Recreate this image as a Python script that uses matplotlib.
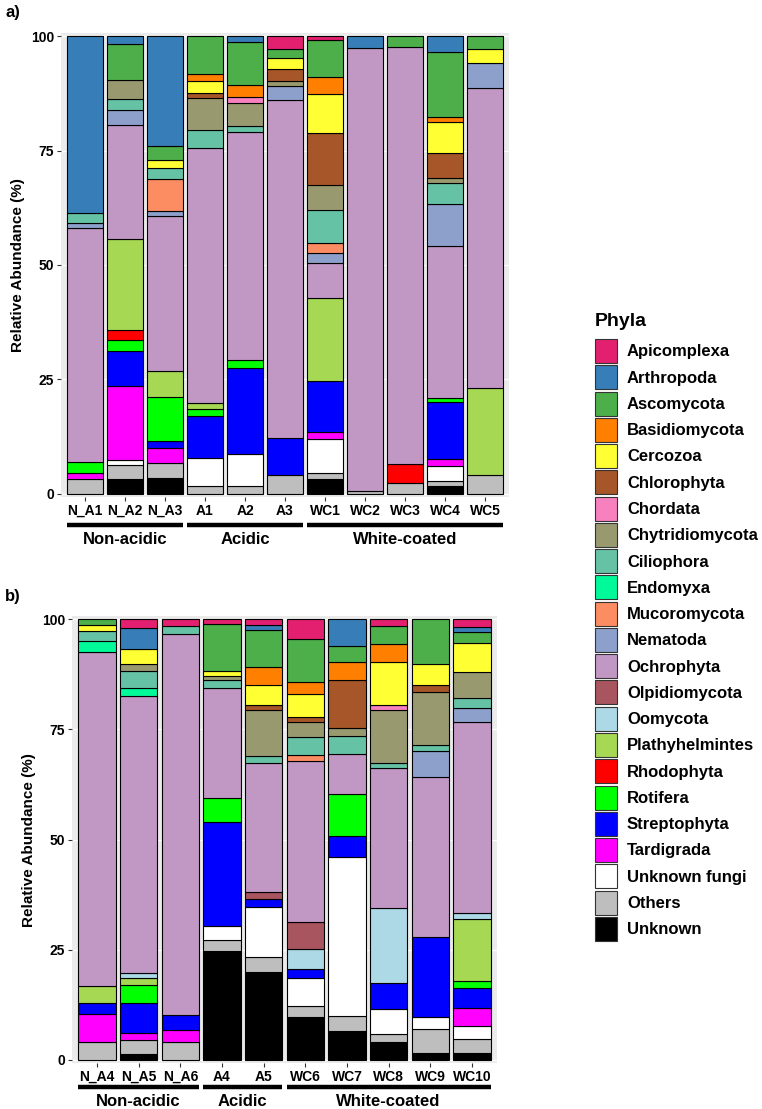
import numpy as np
import matplotlib
matplotlib.use("Agg")
import matplotlib.pyplot as plt
from matplotlib.patches import Patch
import matplotlib.transforms as mtransforms

plt.rcParams['font.family'] = ['Liberation Sans', 'DejaVu Sans']
plt.rcParams['font.weight'] = 'bold'

# ---------------- data ----------------
phyla = ["Apicomplexa", "Arthropoda", "Ascomycota", "Basidiomycota", "Cercozoa",
         "Chlorophyta", "Chordata", "Chytridiomycota", "Ciliophora", "Endomyxa",
         "Mucoromycota", "Nematoda", "Ochrophyta", "Olpidiomycota", "Oomycota",
         "Plathyhelmintes", "Rhodophyta", "Rotifera", "Streptophyta", "Tardigrada",
         "Unknown fungi", "Others", "Unknown"]
colors = ["#E3206F", "#377EB8", "#4DAF4A", "#FF7F00", "#FFFF33",
          "#A65628", "#F781BF", "#999970", "#66C2A5", "#00FA9A",
          "#FC8D62", "#8DA0CB", "#C197C4", "#A8555F", "#ADD8E6",
          "#A6D854", "#FF0000", "#00FF00", "#0000FF", "#FF00FF",
          "#FFFFFF", "#BEBEBE", "#000000"]

# panel a samples (values in phyla order, %)
samples_a = ["N_A1", "N_A2", "N_A3", "A1", "A2", "A3", "WC1", "WC2", "WC3", "WC4", "WC5"]
N_A1 = [0, 38.6, 0, 0, 0, 0, 0, 0, 2.3, 0, 0, 1.1, 51.1, 0, 0, 0, 0, 2.4, 0, 1.2, 0, 3.3, 0]
N_A2 = [0, 1.6, 7.9, 0, 0, 0, 0, 4.2, 2.5, 0, 0, 3.2, 25.0, 0, 0, 19.8, 2.2, 2.3, 7.7, 16.2, 1.0, 3.1, 3.3]
N_A3 = [0, 24.0, 3.1, 0, 1.8, 0, 0, 0, 2.4, 0, 6.9, 1.1, 33.8, 0, 0, 5.7, 0, 9.6, 1.6, 3.3, 0, 3.2, 3.5]
A1 = [0, 0, 8.2, 1.6, 2.6, 1.1, 0, 6.9, 4.0, 0, 0, 0, 55.8, 0, 0, 1.3, 0, 1.6, 9.0, 0, 6.1, 1.8, 0]
A2 = [0, 1.3, 9.4, 2.6, 0, 0, 1.2, 5.2, 1.2, 0, 0, 0, 49.9, 0, 0, 0, 0, 1.6, 19.0, 0, 6.8, 1.8, 0]
A3 = [2.9, 0, 1.8, 0, 2.4, 2.6, 0, 1.1, 0, 0, 0, 3.2, 73.8, 0, 0, 0, 0, 0, 8.0, 0, 0, 4.2, 0]
WC1 = [0.9, 0, 8.0, 3.8, 8.5, 11.3, 0, 5.5, 7.2, 0, 2.1, 2.2, 7.7, 0, 0, 18.1, 0, 0, 11.2, 1.5, 7.5, 1.2, 3.3]
WC2 = [0, 2.5, 0, 0, 0, 0, 0, 0, 0, 0, 0, 0, 96.9, 0, 0, 0, 0, 0, 0, 0, 0, 0.6, 0]
WC3 = [0, 0, 2.4, 0, 0, 0, 0, 0, 0, 0, 0, 0, 91.1, 0, 0, 0, 4.2, 0, 0, 0, 0, 2.3, 0]
WC4 = [0, 3.4, 14.3, 1.0, 6.8, 5.4, 0, 1.1, 4.6, 0, 0, 9.2, 33.3, 0, 0, 0, 0, 0.9, 12.4, 1.6, 3.2, 1.0, 1.8]
WC5 = [0, 0, 2.9, 0, 2.9, 0, 0, 0, 0, 0, 0, 5.6, 65.5, 0, 0, 19.1, 0, 0, 0, 0, 0, 4.0, 0]

# panel b samples
samples_b = ["N_A4", "N_A5", "N_A6", "A4", "A5", "WC6", "WC7", "WC8", "WC9", "WC10"]
N_A4 = [0, 0, 1.3, 0, 1.3, 0, 0, 0, 2.3, 2.6, 0, 0, 75.8, 0, 0, 3.7, 0, 0, 2.5, 6.4, 0, 4.1, 0]
N_A5 = [2.1, 4.7, 0, 0, 3.5, 0, 0, 1.5, 3.8, 1.8, 0, 0, 62.8, 0, 1.3, 1.4, 0, 4.3, 6.8, 1.5, 0, 3.2, 1.3]
N_A6 = [1.5, 0, 0, 0, 0, 0, 0, 0, 1.9, 0, 0, 0, 86.4, 0, 0, 0, 0, 0, 3.4, 2.8, 0, 4.0, 0]
A4 = [1.1, 0, 10.6, 0, 1.1, 0, 0, 1.1, 1.7, 0, 0, 0, 25.0, 0, 0, 0, 0, 5.5, 23.5, 0, 3.3, 2.4, 24.7]
A5 = [1.3, 1.1, 8.5, 4.1, 4.5, 1.2, 0, 10.4, 1.6, 0, 0, 0, 29.1, 1.8, 0, 0, 0, 0, 1.6, 0, 11.4, 3.4, 20.0]
WC6 = [4.5, 0, 9.8, 2.8, 5.1, 1.1, 0, 3.5, 4.0, 0, 1.3, 0, 36.7, 6.0, 4.5, 0, 0, 0, 2.1, 0, 6.4, 2.4, 9.8]
WC7 = [0, 6.0, 3.8, 4.0, 0, 11.0, 0, 1.7, 4.0, 0, 0, 0, 9.1, 0, 0, 0, 0, 9.5, 4.8, 0, 36.1, 3.4, 6.6]
WC8 = [1.5, 0, 4.1, 4.2, 9.7, 0, 1.2, 12.0, 1.1, 0, 0, 0, 31.7, 0, 17.0, 0, 0, 0, 6.0, 0, 5.6, 1.8, 4.1]
WC9 = [0, 0, 10.3, 0, 4.7, 1.5, 0, 12.1, 1.3, 0, 0, 5.9, 36.4, 0, 0, 0, 0, 0, 18.1, 0, 2.6, 5.6, 1.5]
WC10 = [1.7, 1.3, 2.5, 0, 6.5, 0, 0, 5.8, 2.3, 0, 0, 3.2, 43.3, 0, 1.5, 14.0, 0, 1.6, 4.6, 4.0, 3.0, 3.2, 1.5]

groups_a = [("Non-acidic", 0, 2), ("Acidic", 3, 5), ("White-coated", 6, 10)]
groups_b = [("Non-acidic", 0, 2), ("Acidic", 3, 4), ("White-coated", 5, 9)]

data_a = np.array([N_A1, N_A2, N_A3, A1, A2, A3, WC1, WC2, WC3, WC4, WC5])
data_b = np.array([N_A4, N_A5, N_A6, A4, A5, WC6, WC7, WC8, WC9, WC10])

# ---------------- figure ----------------
W, H = 762, 1109
fig = plt.figure(figsize=(W / 100, H / 100), dpi=100)


def px_axes(l, t, r, b):
    return fig.add_axes([l / W, 1 - b / H, (r - l) / W, (b - t) / H])


def draw_panel(ax, samples, data, groups, line_y, text_y):
    n = len(samples)
    x = np.arange(1, n + 1)
    ax.set_facecolor("#EBEBEB")
    ax.grid(axis="y", color="white", linewidth=1.0)
    ax.set_axisbelow(True)
    bottom = np.zeros(n)
    for j in range(len(phyla) - 1, -1, -1):
        vals = data[:, j]
        lw = np.where(vals > 0, 0.8, 0.0)
        ax.bar(x, vals, width=0.9, bottom=bottom, color=colors[j],
               edgecolor="black", linewidth=lw, zorder=2)
        bottom += vals
    ax.set_xlim(0.4, n + 0.6)
    ax.set_ylim(-0.7, 100.7)
    ax.set_yticks([0, 25, 50, 75, 100])
    ax.set_yticklabels(["0", "25", "50", "75", "100"], fontsize=10, fontweight="bold")
    ax.set_xticks(x)
    ax.set_xticklabels(samples, fontsize=10, fontweight="bold")
    ax.tick_params(axis="both", length=3, color="#333333", pad=2)
    for s in ax.spines.values():
        s.set_visible(False)
    trans = mtransforms.blended_transform_factory(ax.transData, ax.transAxes)
    for name, i0, i1 in groups:
        ax.plot([x[i0] - 0.45, x[i1] + 0.45], [line_y, line_y], color="black",
                linewidth=3.2, transform=trans, clip_on=False, solid_capstyle="butt")
        ax.text((x[i0] + x[i1]) / 2, text_y, name, transform=trans, ha="center",
                va="center", fontsize=12, fontweight="bold")


ax_a = px_axes(61, 33, 509, 497)
draw_panel(ax_a, samples_a, data_a, groups_a, -0.060, -0.0925)
ax_b = px_axes(72, 616, 497, 1063)
draw_panel(ax_b, samples_b, data_b, groups_b, -0.0537, -0.0865)

fig.text(18 / W, 1 - 265 / H, "Relative Abundance (%)", rotation=90, ha="center",
         va="center", fontsize=11, fontweight="bold")
fig.text(29 / W, 1 - 840 / H, "Relative Abundance (%)", rotation=90, ha="center",
         va="center", fontsize=11, fontweight="bold")
fig.text(5 / W, 1 - 12 / H, "a)", ha="left", va="center", fontsize=12, fontweight="bold")
fig.text(5 / W, 1 - 597 / H, "b)", ha="left", va="center", fontsize=12, fontweight="bold")

# legend: title drawn as text, entries via fig.legend
fig.text(595 / W, 1 - 321 / H, "Phyla", ha="left", va="center", fontsize=14,
         fontweight="bold")
handles = [Patch(facecolor=c, edgecolor="#333333", linewidth=0.8) for c in colors]
leg = fig.legend(handles, phyla, loc="upper left", bbox_to_anchor=(595 / W, 1 - 339 / H),
                 frameon=False, fontsize=12,
                 handlelength=1.32, handleheight=1.84, labelspacing=0.135,
                 handletextpad=0.6, borderpad=0, borderaxespad=0)
for t in leg.get_texts():
    t.set_fontweight("bold")

fig.savefig("out.png", dpi=100)
